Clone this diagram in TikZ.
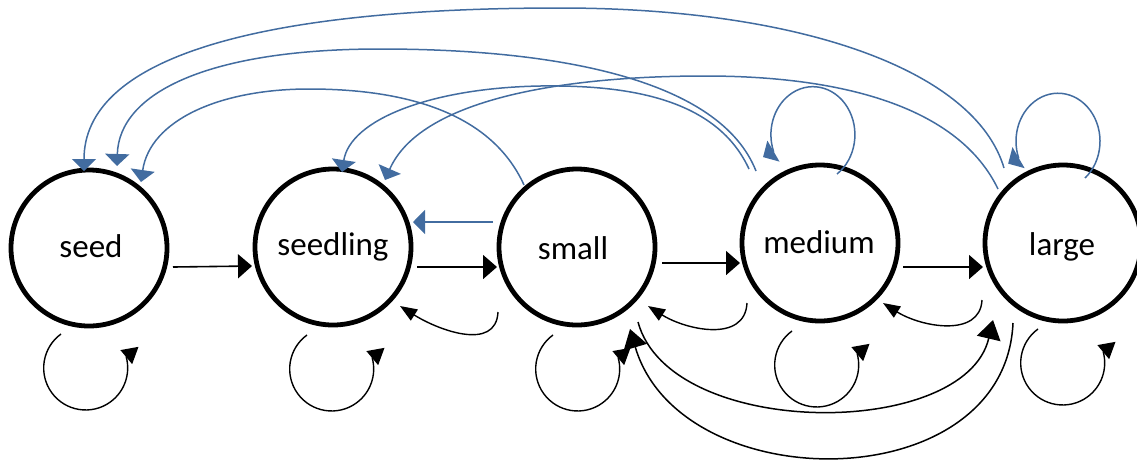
\documentclass[tikz,border=0pt]{standalone}
\usepackage{fontspec}
\setmainfont{Carlito}
\usetikzlibrary{arrows.meta,calc}
\definecolor{linkblue}{RGB}{66,108,160}
\begin{document}
\begin{tikzpicture}[x=1pt,y=1pt,
  stage/.style={circle,draw=black,line width=4.8pt,minimum size=156pt,inner sep=0pt,outer sep=0pt},
  stagename/.style={anchor=base,inner sep=0pt,font=\fontsize{33}{40}\selectfont},
  fwd/.style={draw=black,line width=1.6pt,-{Triangle[length=14pt,width=24pt]}},
  back/.style={draw=black,line width=1.4pt,-{Triangle[length=17pt,width=13pt]}},
  stay/.style={draw=black,line width=1.4pt,-{Triangle[length=16pt,width=18pt]}},
  jump/.style={draw=black,line width=1.5pt,-{Triangle[length=19pt,width=24pt]}},
  regress/.style={draw=linkblue,line width=1.5pt,-{Triangle[length=12pt,width=24pt]}},
]
\useasboundingbox (0,0) rectangle (1137,-459);

% life stages
\node[stage] (seed)     at (89,-248)  {};
\node[stage] (seedling) at (333,-247) {};
\node[stage] (small)    at (577,-247) {};
\node[stage] (medium)   at (820,-243) {};
\node[stage] (large)    at (1063,-243) {};

\node[stagename] (seedlbl)     at (91,-257)   {seed};
\node[stagename] (seedlinglbl) at (333,-255)  {seedling};
\node[stagename] (smalllbl)    at (573,-259)  {small};
\node[stagename] (mediumlbl)   at (819,-253)  {medium};
\node[stagename] (largelbl)    at (1062,-255) {large};

% growth to the next stage
\draw[fwd] ($(seed)+(84,-19)$)     -- ($(seedling)+(-81,-19)$);
\draw[fwd] ($(seedling)+(84,-20)$) -- ($(small)+(-80,-20)$);
\draw[fwd] ($(small)+(85,-16)$)    -- ($(medium)+(-80,-20)$);
\draw[fwd] ($(medium)+(83,-24)$)   -- ($(large)+(-80,-24)$);

% shrinking back one stage
\draw[back] ($(small)+(-79,-65)$)  .. controls +(-2,-40) and +(38,-24) .. ($(seedling)+(67,-59)$);
\draw[back] ($(medium)+(-73,-60)$) .. controls +(-2,-40) and +(38,-24) .. ($(small)+(71,-59)$);
\draw[back] ($(large)+(-81,-57)$)  .. controls +(-2,-38) and +(38,-24) .. ($(medium)+(63,-60)$);

% stasis loops
\draw[stay] ($(seed)+(-28,-86)$)     arc[start angle=126, end angle=375, radius=42pt] -- ++(40:16pt);
\draw[stay] ($(seedling)+(-26,-88)$) arc[start angle=126, end angle=375, radius=42pt] -- ++(40:16pt);
\draw[stay] ($(small)+(-24,-88)$)    arc[start angle=126, end angle=375, radius=42pt] -- ++(40:16pt);
\draw[stay] ($(medium)+(-28,-88)$)   arc[start angle=126, end angle=375, radius=42pt] -- ++(40:16pt);
\draw[stay] ($(large)+(-25,-86)$)    arc[start angle=126, end angle=375, radius=42pt] -- ++(40:16pt);

% skipping a stage
\draw[jump] ($(small)+(61,-75)$)  .. controls +(32,-118) and +(-28,-120) .. ($(large)+(-70,-77)$);
\draw[jump] ($(large)+(-50,-80)$) .. controls +(-8,-177) and +(50,-171) .. ($(small)+(53,-82)$);

% reproduction and regression (blue)
\draw[regress] ($(small)+(-84,25)$) -- ($(seedling)+(80,25)$);
\draw[regress] ($(large)+(-59,75)$)
  .. controls (975,-70) and (800,-8) .. (560,-8)
  .. controls (250,-8) and (84,-60) .. ($(seed)+(-5,77)$);
\draw[regress] ($(medium)+(-64,72)$)
  .. controls (720,-80) and (560,-49) .. (380,-49)
  .. controls (210,-49) and (119,-92) .. ($(seed)+(28,82)$);
\draw[regress] ($(small)+(-53,62)$)
  .. controls (490,-110) and (400,-89) .. (309,-89)
  .. controls (220,-89) and (150,-120) .. ($(seed)+(52,66)$);
\draw[regress] ($(medium)+(-71,74)$)
  .. controls (715,-95) and (620,-85) .. (540,-86)
  .. controls (430,-88) and (350,-120) .. ($(seedling)+(9,75)$);
\draw[regress] ($(large)+(-65,54)$)
  .. controls (960,-110) and (850,-76) .. (705,-76)
  .. controls (560,-76) and (420,-100) .. ($(seedling)+(52,67)$);

% blue self loops above the two largest stages
\draw[regress] ($(medium)+(17,69)$) arc[start angle=-55, end angle=200, x radius=42pt, y radius=48pt] -- ++(210:12pt);
\draw[regress] ($(large)+(22,65)$)  arc[start angle=-50, end angle=200, x radius=42pt, y radius=48pt] -- ++(210:12pt);
\end{tikzpicture}
\end{document}
